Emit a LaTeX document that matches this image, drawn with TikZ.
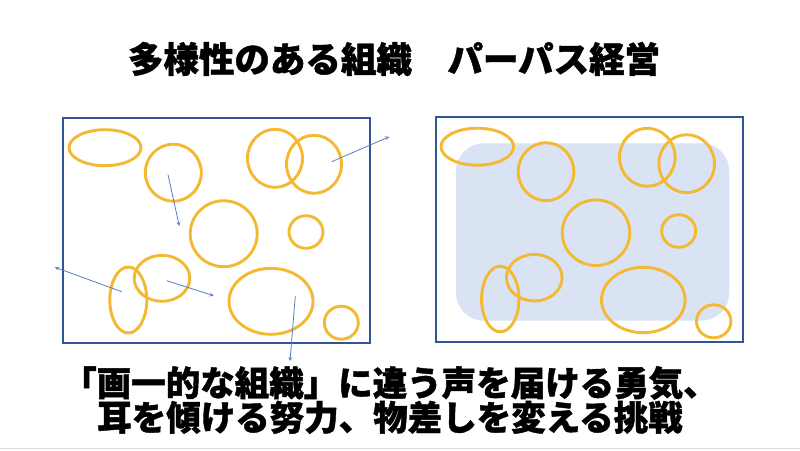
\documentclass[tikz,border=0pt]{standalone}
\usepackage{fontspec}
\newfontfamily\jp[BoldFeatures={FakeBold=1.2}]{Noto Sans CJK JP}
\usetikzlibrary{arrows}
\definecolor{framecolor}{RGB}{47, 85, 151}
\definecolor{bubblecolor}{RGB}{244, 185, 50}
\definecolor{arrowcolor}{RGB}{90, 125, 200}
\definecolor{zonecolor}{RGB}{218, 227, 243}
\tikzstyle{frame} = [draw=framecolor, line width=1.8pt]
\tikzstyle{bubble} = [draw=bubblecolor, line width=2.9pt]
\tikzstyle{arrow} = [draw=arrowcolor, line width=0.8pt, ->, >=stealth]
\tikzstyle{heading} = [font=\jp\bfseries\fontsize{35.5}{40}\selectfont, text=black]

\begin{document}
\begin{tikzpicture}[x=1pt, y=-1pt]
        \useasboundingbox (0,0) rectangle (800,450);
        \fill[white] (0,0) rectangle (800,450);

        %Title
        \node (Title) [heading] at (394,59) {多様性のある組織　パーパス経営};

        %Left frame: diverse organisation
        \draw [frame] (63,118) rectangle (370,343);
        \draw [bubble] (105,147.7) ellipse (36pt and 18pt);
        \draw [bubble] (173.3,172.7) ellipse (28pt and 28.5pt);
        \draw [bubble] (275,158.3) ellipse (27.5pt and 29pt);
        \draw [bubble] (314,164.3) ellipse (27.5pt and 29pt);
        \draw [bubble] (223.7,233.7) ellipse (33.5pt and 33pt);
        \draw [bubble] (306,232) ellipse (17pt and 16.3pt);
        \draw [bubble] (128.3,300) ellipse (18.5pt and 33pt);
        \draw [bubble] (162,278.3) ellipse (27.8pt and 23pt);
        \draw [bubble] (271,301.3) ellipse (42pt and 33pt);
        \draw [bubble] (341.3,322.7) ellipse (17pt and 16.5pt);

        %Arrows pulling apart
        \coordinate (A1) at (168,174.7);   \coordinate (A1tip) at (179.3,226);
        \coordinate (A2) at (331.7,161.7); \coordinate (A2tip) at (389.3,136.7);
        \coordinate (A3) at (121.7,291.7); \coordinate (A3tip) at (55,267.3);
        \coordinate (A4) at (166.7,280.7); \coordinate (A4tip) at (213.7,295.7);
        \coordinate (A5) at (295.3,296);   \coordinate (A5tip) at (290,361);
        \draw [arrow] (A1) -- (A1tip);
        \draw [arrow] (A2) -- (A2tip);
        \draw [arrow] (A3) -- (A3tip);
        \draw [arrow] (A4) -- (A4tip);
        \draw [arrow] (A5) -- (A5tip);

        %Right frame: purpose
        \draw [frame] (436,117) rectangle (743,342);
        \fill [zonecolor, rounded corners=28pt] (456,143.3) rectangle (729.3,320.7);
        \draw [bubble] (477.3,146.7) ellipse (36.3pt and 18.5pt);
        \draw [bubble] (546,171.7) ellipse (27.8pt and 29pt);
        \draw [bubble] (647.3,157.3) ellipse (27.8pt and 29pt);
        \draw [bubble] (686.7,163.7) ellipse (27.8pt and 29pt);
        \draw [bubble] (596,232.7) ellipse (33.8pt and 32.8pt);
        \draw [bubble] (678.7,231) ellipse (17pt and 16.3pt);
        \draw [bubble] (500.3,299) ellipse (18.7pt and 32.8pt);
        \draw [bubble] (534.3,277.7) ellipse (27.8pt and 23.3pt);
        \draw [bubble] (643.3,300) ellipse (41.8pt and 32.7pt);
        \draw [bubble] (713.7,321.3) ellipse (17.2pt and 16.5pt);

        %Message
        \node (Message) [heading, font=\jp\bfseries\fontsize{34.5}{33.5}\selectfont, align=center] at (390,400)
            {「画一的な組織」に違う声を届ける勇気、\\耳を傾ける努力、物差しを変える挑戦};

        %Bottom edge
        \coordinate (EdgeL) at (0,448.5);
        \coordinate (EdgeR) at (800,448.5);
        \draw [gray!30, line width=1.2pt] (EdgeL) -- (EdgeR);

    \end{tikzpicture}
\end{document}
